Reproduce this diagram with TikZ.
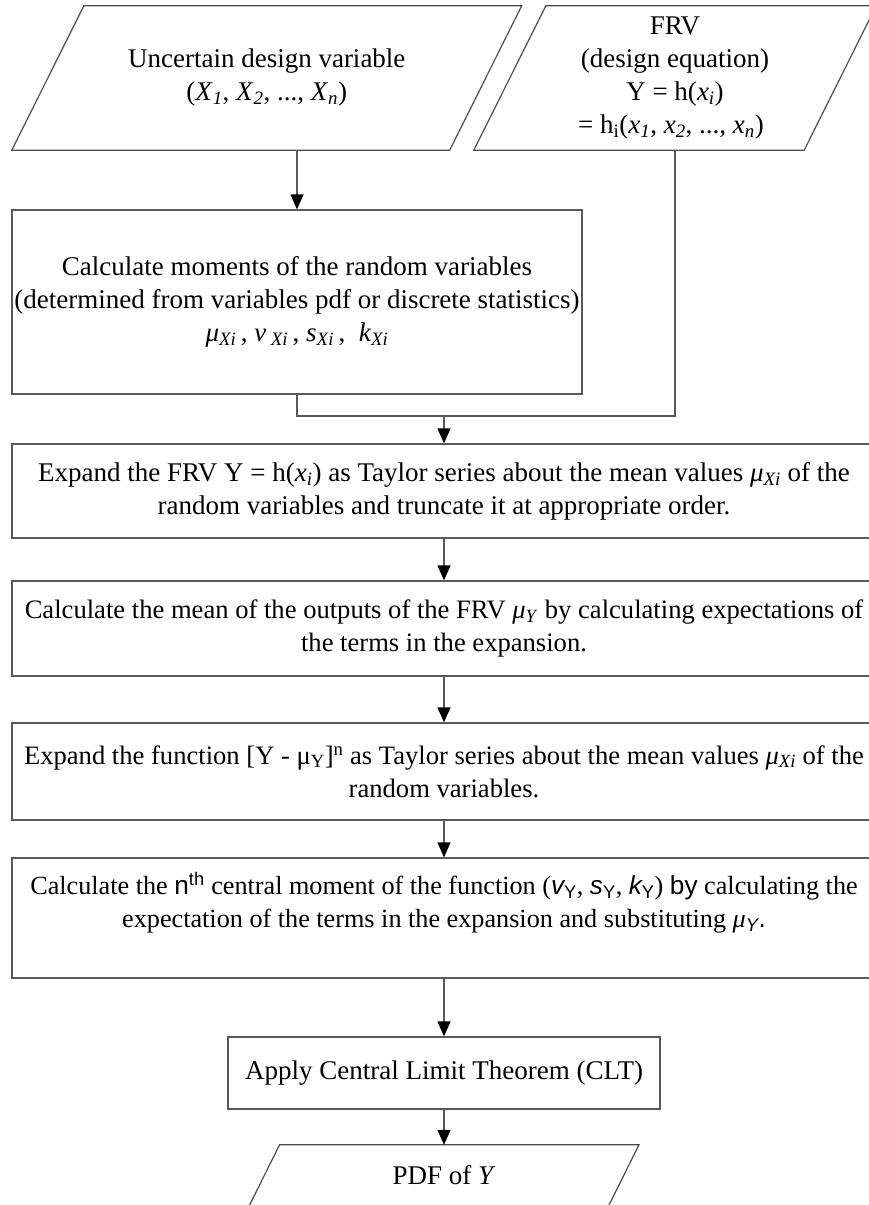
\documentclass[tikz,border=0pt]{standalone}
\usepackage{fontspec}
\setmainfont{Liberation Serif}
\newfontfamily\arialf{Liberation Sans}
\usetikzlibrary{arrows.meta}
\newcommand{\sbi}[1]{\textsubscript{\textit{#1}}}
\begin{document}
\begin{tikzpicture}[x=1pt,y=-1pt,
  every node/.style={font=\fontsize{27}{33}\selectfont, align=center, inner sep=0pt},
  box/.style={draw=black!65, line width=1.3pt, rectangle},
  link/.style={draw=black!65, line width=1.3pt},
  arrow/.style={link, -{Triangle[width=13pt,length=15pt,color=black]}},
  para/.style={draw=black!70, line width=1.2pt, line join=miter}]
\useasboundingbox (0,0) rectangle (869,1205);
\clip (0,0) rectangle (869,1205);

% input parallelograms
\node[minimum width=437.5pt, minimum height=144pt] (p1) at (266.75,78)
  {Uncertain design variable\\(\textit{X}\sbi{1}, \textit{X}\sbi{2}, ..., \textit{X}\sbi{n})};
\draw[para] ([xshift=-36pt]p1.south west) -- ([xshift=-36pt]p1.south east)
  -- ([xshift=36pt]p1.north east) -- ([xshift=36pt]p1.north west) -- cycle;

\node[minimum width=330pt, minimum height=144pt] (p2) at (675,78)
  {FRV\\(design equation)\\Y = h(\textit{x}\sbi{i})\\= h\textsubscript{i}(\textit{x}\sbi{1}, \textit{x}\sbi{2}, ..., \textit{x}\sbi{n})\hspace*{8pt}};
\draw[para] ([xshift=-36pt]p2.south west) -- ([xshift=-36pt]p2.south east)
  -- ([xshift=36pt]p2.north east) -- ([xshift=36pt]p2.north west) -- cycle;

% moments box
\node[box, minimum width=570pt, minimum height=184pt] (mom) at (297,302)
  {Calculate moments of the random variables\\(determined from variables pdf or discrete statistics)\\
   \textit{μ}\sbi{Xi}\,, \textit{v}\,\sbi{Xi}\,, \textit{s}\sbi{Xi}\,, \ \textit{k}\sbi{Xi}};

% process boxes
\node[box, minimum width=864pt, minimum height=94pt] (b3) at (444,491)
  {Expand the FRV Y = h(\textit{x}\sbi{i}) as Taylor series about the mean values \textit{μ}\sbi{Xi} of the\\
   random variables and truncate it at appropriate order.};
\node[box, minimum width=864pt, minimum height=95pt, font=\fontsize{26.6}{33}\selectfont] (b4) at (444,628.5)
  {Calculate the mean of the outputs of the FRV \textit{μ}\sbi{Y} by calculating expectations of\\
   the terms in the expansion.};
\node[box, minimum width=864pt, minimum height=97pt, font=\fontsize{26.6}{33}\selectfont] (b5) at (444,771.5)
  {Expand the function [Y - μ\textsubscript{Y}]\textsuperscript{n} as Taylor series about the mean values \textit{μ}\sbi{Xi} of the\\
   random variables.};
\node[box, minimum width=864pt, minimum height=120pt, font=\fontsize{26.2}{33}\selectfont] (b6) at (444,918)
  {Calculate the {\arialf n\textsuperscript{th}} central moment of the function ({\arialf\itshape v}\textsubscript{\arialf Y}, {\arialf\itshape s}\textsubscript{\arialf Y}, {\arialf\itshape k}\textsubscript{\arialf Y})\ {\arialf by} calculating the\\
   expectation of the terms in the expansion and substituting \textit{μ}\textsubscript{\arialf\itshape Y}{\arialf .}\\[4pt]\mbox{}};
\node[box, minimum width=432pt, minimum height=72pt] (clt) at (444,1073)
  {Apply Central Limit Theorem (CLT)};

% output parallelogram
\node[minimum width=359pt, minimum height=61pt] (pdf) at (444,1175.5)
  {PDF of \textit{Y}};
\draw[para] ([xshift=-15.25pt]pdf.south west) -- ([xshift=-15.25pt]pdf.south east)
  -- ([xshift=15.25pt]pdf.north east) -- ([xshift=15.25pt]pdf.north west) -- cycle;

% connectors
\coordinate (j) at (444,416);
\draw[arrow] (p1.south -| mom.north) -- (mom.north);
\draw[link] (mom.south) |- (p2.south |- j) -- (p2.south);
\draw[arrow] (j) -- (b3.north);
\draw[arrow] (b3) -- (b4);
\draw[arrow] (b4) -- (b5);
\draw[arrow] (b5) -- (b6);
\draw[arrow] (b6) -- (clt);
\draw[arrow] (clt) -- (pdf);
\end{tikzpicture}
\end{document}
